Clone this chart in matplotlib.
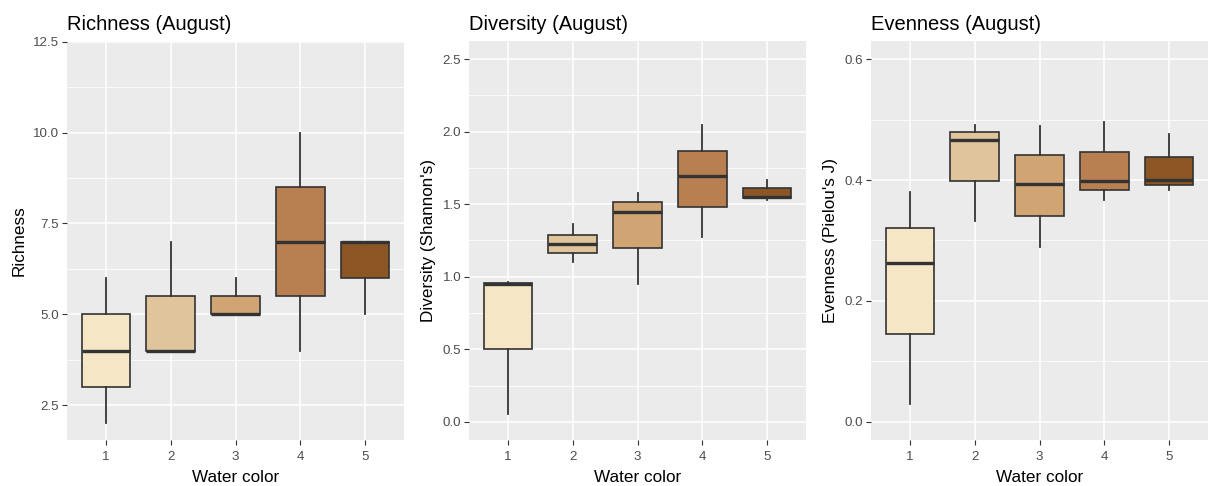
import matplotlib
matplotlib.use("Agg")
import matplotlib.pyplot as plt
from matplotlib.ticker import MultipleLocator

plt.rcParams['font.family'] = ['Liberation Sans', 'DejaVu Sans']

groups = ['1', '2', '3', '4', '5']
fills = ['#F5E6C5', '#E0C49B', '#D0A573', '#B87F50', '#8B5524']

# richness box stats (whisker low, q1, median, q3, whisker high)
rich_lo = [2, 4, 5, 4, 5]
rich_q1 = [3, 4, 5, 5.5, 6]
rich_med = [4, 4, 5, 7, 7]
rich_q3 = [5, 5.5, 5.5, 8.5, 7]
rich_hi = [6, 7, 6, 10, 7]

div_lo = [0.057, 1.10, 0.948, 1.273, 1.531]
div_q1 = [0.50, 1.163, 1.197, 1.483, 1.540]
div_med = [0.948, 1.223, 1.444, 1.696, 1.549]
div_q3 = [0.958, 1.289, 1.515, 1.865, 1.611]
div_hi = [0.965, 1.367, 1.577, 2.043, 1.668]

even_lo = [0.029, 0.332, 0.290, 0.367, 0.384]
even_q1 = [0.145, 0.399, 0.341, 0.383, 0.391]
even_med = [0.262, 0.467, 0.394, 0.399, 0.400]
even_q3 = [0.321, 0.479, 0.441, 0.447, 0.438]
even_hi = [0.381, 0.491, 0.490, 0.496, 0.476]

panels = [
    dict(title='Richness (August)', ylabel='Richness', lo=rich_lo, q1=rich_q1, med=rich_med,
         q3=rich_q3, hi=rich_hi, ylim=(1.54, 12.52), major=2.5, left=67),
    dict(title='Diversity (August)', ylabel="Diversity (Shannon's)", lo=div_lo, q1=div_q1, med=div_med,
         q3=div_q3, hi=div_hi, ylim=(-0.125, 2.625), major=0.5, left=469),
    dict(title='Evenness (August)', ylabel="Evenness (Pielou's J)", lo=even_lo, q1=even_q1, med=even_med,
         q3=even_q3, hi=even_hi, ylim=(-0.03, 0.63), major=0.2, left=871),
]

W, H = 1208, 486
fig = plt.figure(figsize=(W / 100, H / 100), dpi=100)

for p in panels:
    ax = fig.add_axes([p['left'] / W, 1 - 440 / H, 337 / W, 399 / H])
    ax.set_facecolor('#EBEBEB')
    for s in ax.spines.values():
        s.set_visible(False)
    stats = [dict(whislo=p['lo'][i], q1=p['q1'][i], med=p['med'][i], q3=p['q3'][i],
                  whishi=p['hi'][i], fliers=[], label=g) for i, g in enumerate(groups)]
    bp = ax.bxp(stats, positions=range(1, 6), widths=0.75, patch_artist=True,
                showcaps=False, showfliers=False,
                boxprops=dict(edgecolor='#333333', linewidth=1.2),
                whiskerprops=dict(color='#333333', linewidth=1.3),
                medianprops=dict(color='#333333', linewidth=2.4, solid_capstyle='butt'),
                zorder=3)
    for patch, c in zip(bp['boxes'], fills):
        patch.set_facecolor(c)
    ax.set_xlim(0.4, 5.6)
    ax.set_ylim(*p['ylim'])
    ax.yaxis.set_major_locator(MultipleLocator(p['major']))
    ax.yaxis.set_minor_locator(MultipleLocator(p['major'] / 2))
    ax.grid(True, which='major', color='white', lw=1.1, zorder=0)
    ax.grid(True, which='minor', axis='y', color='white', lw=0.55, zorder=0)
    ax.set_axisbelow(True)
    ax.tick_params(axis='both', which='major', length=3.5, width=0.8, color='#333333',
                   labelcolor='#4D4D4D', labelsize=9.6, pad=2)
    ax.tick_params(axis='x', which='major', pad=4.5)
    ax.tick_params(axis='y', which='minor', length=0)
    ax.set_title(p['title'], loc='left', fontsize=14.5, color='black', pad=8)
    ax.set_xlabel('Water color', fontsize=12.3, labelpad=5)
    ax.set_ylabel(p['ylabel'], fontsize=12.3, labelpad=5)

plt.savefig('out.png', dpi=100)
